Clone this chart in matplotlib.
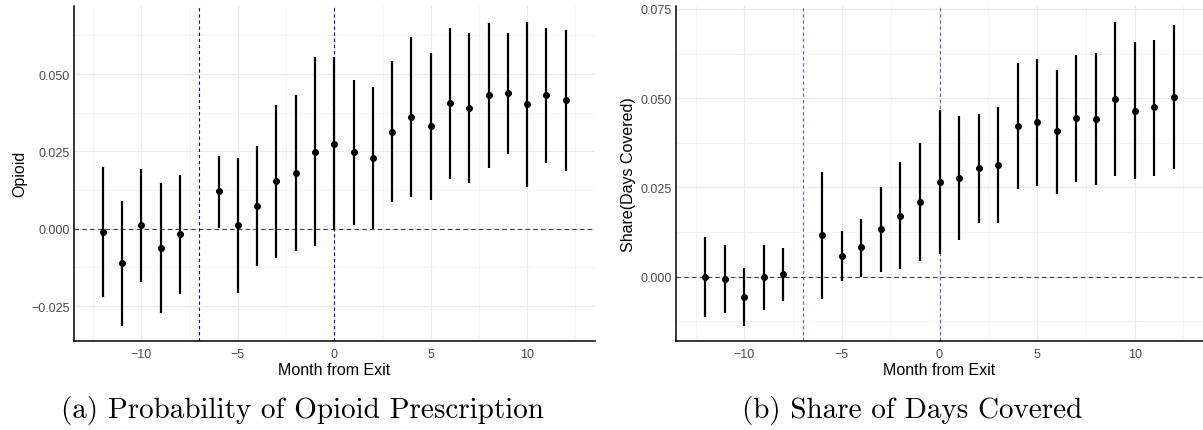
import matplotlib
matplotlib.use("Agg")
import matplotlib.pyplot as plt
from matplotlib.ticker import FixedLocator, FuncFormatter
import numpy as np

months = [-12, -11, -10, -9, -8, -6, -5, -4, -3, -2, -1, 0, 1, 2, 3, 4, 5, 6, 7, 8, 9, 10, 11, 12]

opioid_est = [-0.0010, -0.0111, 0.0012, -0.0063, -0.0018, 0.0121, 0.0011, 0.0072, 0.0153, 0.0181, 0.0249, 0.0273,
              0.0248, 0.0229, 0.0314, 0.0361, 0.0332, 0.0406, 0.0391, 0.0431, 0.0439, 0.0402, 0.0431, 0.0416]
opioid_hi = [0.0200, 0.0091, 0.0194, 0.0148, 0.0174, 0.0236, 0.0228, 0.0266, 0.0399, 0.0432, 0.0554, 0.0554,
             0.0482, 0.0458, 0.0541, 0.0620, 0.0569, 0.0648, 0.0632, 0.0665, 0.0634, 0.0668, 0.0649, 0.0643]
opioid_lo = [-0.0222, -0.0314, -0.0171, -0.0274, -0.0210, 0.0003, -0.0207, -0.0121, -0.0095, -0.0071, -0.0057, -0.0003,
             0.0013, 0.0000, 0.0086, 0.0101, 0.0093, 0.0162, 0.0149, 0.0197, 0.0243, 0.0135, 0.0213, 0.0188]

share_est = [0.0000, -0.0005, -0.0056, -0.0002, 0.0007, 0.0116, 0.0059, 0.0082, 0.0133, 0.0171, 0.0209, 0.0265,
             0.0277, 0.0304, 0.0313, 0.0422, 0.0433, 0.0407, 0.0444, 0.0442, 0.0499, 0.0465, 0.0474, 0.0503]
share_hi = [0.0111, 0.0090, 0.0025, 0.0089, 0.0080, 0.0293, 0.0129, 0.0163, 0.0251, 0.0320, 0.0374, 0.0467,
            0.0451, 0.0455, 0.0476, 0.0598, 0.0611, 0.0580, 0.0621, 0.0626, 0.0713, 0.0657, 0.0662, 0.0705]
share_lo = [-0.0112, -0.0101, -0.0137, -0.0093, -0.0069, -0.0062, -0.0011, 0.0000, 0.0014, 0.0022, 0.0044, 0.0064,
            0.0104, 0.0151, 0.0150, 0.0247, 0.0253, 0.0233, 0.0266, 0.0258, 0.0283, 0.0275, 0.0283, 0.0301]

x_ticks = [-10, -5, 0, 5, 10]
x_minor = [-12.5, -7.5, -2.5, 2.5, 7.5, 12.5]
vlines = [-7, 0]

W, H = 1203, 431
fig = plt.figure(figsize=(W / 100, H / 100), dpi=100)
fig.patch.set_facecolor("white")

def fmt(v, pos=None):
    s = f"{abs(v):.3f}"
    return ("\u2212" + s) if v < -1e-12 else s

def xfmt(v, pos=None):
    return ("\u2212" + str(int(abs(v)))) if v < 0 else str(int(v))

def panel(rect, est, lo, hi, ylim, yticks, yminor, ylabel, vcolor):
    ax = fig.add_axes(rect)
    ax.set_xlim(-13.5, 13.5)
    ax.set_ylim(*ylim)
    ax.xaxis.set_major_locator(FixedLocator(x_ticks))
    ax.xaxis.set_minor_locator(FixedLocator(x_minor))
    ax.yaxis.set_major_locator(FixedLocator(yticks))
    ax.yaxis.set_minor_locator(FixedLocator(yminor))
    ax.yaxis.set_major_formatter(FuncFormatter(fmt))
    ax.xaxis.set_major_formatter(FuncFormatter(xfmt))
    ax.grid(True, which="major", color="#ebebeb", lw=0.9, zorder=0)
    ax.grid(True, which="minor", color="#f2f2f2", lw=0.6, zorder=0)
    ax.set_axisbelow(True)
    for s in ["top", "right"]:
        ax.spines[s].set_visible(False)
    for s in ["left", "bottom"]:
        ax.spines[s].set_color("black")
        ax.spines[s].set_linewidth(1.1)
    ax.tick_params(which="both", length=0, labelsize=9, labelcolor="#4d4d4d")
    ax.tick_params(axis="x", pad=5)
    ax.tick_params(axis="y", pad=3)
    for lab in ax.get_xticklabels() + ax.get_yticklabels():
        lab.set_fontfamily("Liberation Sans")
    ax.axhline(0, color="#444444", lw=0.8, ls=(0, (4, 3)), zorder=1)
    for v in vlines:
        ax.axvline(v, color=vcolor, lw=0.8, ls=(0, (3, 2.5)), zorder=1)
    ax.vlines(months, lo, hi, color="black", lw=1.6, zorder=3)
    ax.plot(months, est, "o", color="black", ms=4, zorder=4)
    ax.set_xlabel("Month from Exit", fontsize=11.5, fontfamily="Liberation Sans", color="black", labelpad=2)
    ax.set_ylabel(ylabel, fontsize=11.5, fontfamily="Liberation Sans", color="black", labelpad=3)
    return ax

top_px, bot_px = 7, 341.7
b = 1 - bot_px / H
h = (bot_px - top_px) / H

ax1 = panel([74 / W, b, (594.7 - 74) / W, h], opioid_est, opioid_lo, opioid_hi,
            (-0.0362, 0.072), [-0.025, 0.0, 0.025, 0.050], [-0.0125, 0.0125, 0.0375, 0.0625],
            "Opioid", "#0000ff")
ax2 = panel([676 / W, b, (1203 - 676) / W, h], share_est, share_lo, share_hi,
            (-0.0179, 0.0758), [0.0, 0.025, 0.050, 0.075], [-0.0125, 0.0125, 0.0375, 0.0625],
            "Share(Days Covered)", "#5555ff")

fig.text(302 / W, 1 - 411 / H, "(a) Probability of Opioid Prescription", ha="center", va="center",
         fontsize=21, fontfamily="cmr10")
fig.text(912 / W, 1 - 411 / H, "(b) Share of Days Covered", ha="center", va="center",
         fontsize=21, fontfamily="cmr10")

fig.savefig("out.png", dpi=100, facecolor="white")
